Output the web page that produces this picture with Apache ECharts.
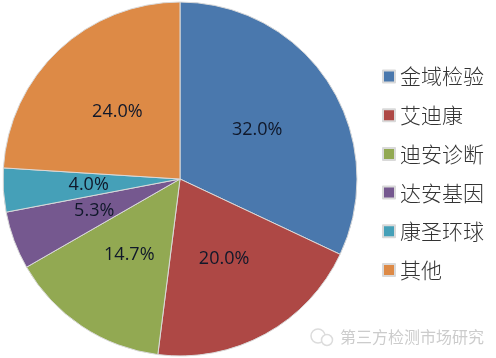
<!DOCTYPE html>
<html>
<head>
<meta charset="utf-8">
<style>
  html, body { margin: 0; padding: 0; background: #fff; }
  #chart { width: 496px; height: 358px; }
</style>
<script src="https://cdn.jsdelivr.net/npm/echarts@6/dist/echarts.min.js"></script>
</head>
<body>
<div id="chart"></div>
<script>
const categories = ['金域检验', '艾迪康', '迪安诊断', '达安基因', '康圣环球', '其他'];
const shares = [32.0, 20.0, 14.7, 5.3, 4.0, 24.0];
const colors = ['#4a78ad', '#ae4845', '#92a952', '#75588f', '#45a0b8', '#dd8a46'];
const watermark = '第三方检测市场研究';

const chart = echarts.init(document.getElementById('chart'));

chart.setOption({
  animation: false,
  color: colors,
  legend: {
    orient: 'vertical',
    left: 377,
    top: 60,
    icon: 'rect',
    itemWidth: 12,
    itemHeight: 12,
    itemGap: 15.7,
    selectedMode: false,
    textStyle: {
      fontFamily: '"Noto Sans CJK SC"',
      fontSize: 21,
      fontWeight: 300,
      color: '#333333',
      lineHeight: 23,
    },
    data: categories,
  },
  series: [
    {
      type: 'pie',
      center: [180, 179],
      radius: [0, 177],
      startAngle: 90,
      clockwise: true,
      data: categories.map((name, i) => ({ name, value: shares[i] })),
      itemStyle: {
        borderColor: '#d9d9d9',
        borderWidth: 1,
      },
      label: {
        position: 'inside',
        fontFamily: '"Open Sans"',
        fontSize: 18,
        color: '#10182a',
        formatter: (p) => shares[p.dataIndex].toFixed(1) + '%',
      },
      labelLine: { show: false },
      emphasis: { disabled: true },
    },
  ],
  graphic: [
    // 水印图标
    { type: 'circle', shape: { cx: 318, cy: 336, r: 7 }, style: { fill: 'none', stroke: '#dcdcdc', lineWidth: 1.5 } },
    { type: 'circle', shape: { cx: 327, cy: 340, r: 5.5 }, style: { fill: '#fff', stroke: '#dcdcdc', lineWidth: 1.5 } },
    {
      type: 'text',
      left: 340,
      top: 329,
      style: {
        text: watermark,
        fontFamily: '"Noto Sans CJK SC"',
        fontSize: 16,
        fill: '#cccccc',
      },
    },
  ],
});
</script>
</body>
</html>
